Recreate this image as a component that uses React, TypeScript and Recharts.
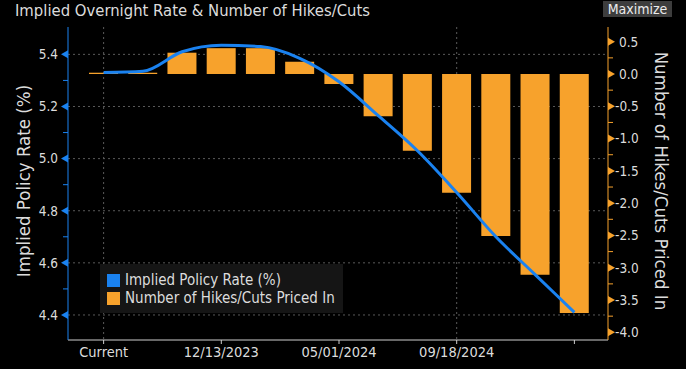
import React from 'react';
import { ComposedChart, Bar, Line, XAxis, YAxis, CartesianGrid, Legend } from 'recharts';

const categories = ['Current', '09/20/2023', '11/01/2023', '12/13/2023', '01/31/2024', '03/20/2024', '05/01/2024', '06/12/2024', '07/31/2024', '09/18/2024', '11/07/2024', '12/18/2024', '01/29/2025'];
const impliedRate = [5.33, 5.335, 5.41, 5.435, 5.43, 5.385, 5.295, 5.165, 5.03, 4.87, 4.7, 4.555, 4.41];
const hikesCuts = [0.02, 0.02, 0.33, 0.4, 0.4, 0.19, -0.155, -0.655, -1.19, -1.84, -2.51, -3.11, -3.7];

const leftTicks = [4.4, 4.5, 4.6, 4.7, 4.8, 4.9, 5.0, 5.1, 5.2, 5.3, 5.4];
const leftMajor = [4.4, 4.6, 4.8, 5.0, 5.2, 5.4];
const rightTicks = [-4, -3.75, -3.5, -3.25, -3, -2.75, -2.5, -2.25, -2, -1.75, -1.5, -1.25, -1, -0.75, -0.5, -0.25, 0, 0.25, 0.5];
const xGridValues = ['Current', '12/13/2023', '05/01/2024', '09/18/2024', '01/29/2025'];
const xLabelHidden = ['01/29/2025'];

const data = categories.map((c, i) => ({ date: c, rate: impliedRate[i], hikes: hikesCuts[i] }));

const BLUE = '#1a82f0';
const ORANGE = '#f7a22c';
const TEXT = '#dcdcdc';
const FONT = "'DejaVu Sans Condensed', 'Liberation Sans Narrow', 'DejaVu Sans', sans-serif";

const LeftTick = (props: any) => {
  const { x, y, payload } = props;
  const v = payload.value;
  const major = Math.round(v * 10) % 2 === 0;
  if (!major) {
    return <line x1={x - 5} x2={x} y1={y} y2={y} stroke={BLUE} strokeWidth={1} />;
  }
  return (
    <g>
      <path d={`M${x} ${y - 4} L${x - 7} ${y} L${x} ${y + 4} Z`} fill={BLUE} />
      <text x={x - 10} y={y} dy="0.36em" textAnchor="end" fill={TEXT} fontSize={13.5} fontFamily={FONT}>
        {v.toFixed(1)}
      </text>
    </g>
  );
};

const RightTick = (props: any) => {
  const { x, y, payload } = props;
  const v = payload.value;
  const major = Math.round(v * 4) % 2 === 0;
  if (!major) {
    return <line x1={x} x2={x + 5} y1={y} y2={y} stroke={ORANGE} strokeWidth={1} />;
  }
  return (
    <g>
      <path d={`M${x} ${y - 4} L${x + 7} ${y} L${x} ${y + 4} Z`} fill={ORANGE} />
      <text x={v < 0 ? x + 7 : x + 11} y={y} dy="0.36em" textAnchor="start" fill={TEXT} fontSize={13.5} fontFamily={FONT}>
        {v.toFixed(1)}
      </text>
    </g>
  );
};

const LegendContent = () => (
  <div
    style={{
      background: '#151515',
      padding: '7px 8px 6px 7px',
      fontFamily: FONT,
      fontSize: 15,
      color: TEXT,
      lineHeight: '18px',
      whiteSpace: 'nowrap',
      display: 'inline-block',
    }}
  >
    <div style={{ display: 'flex', alignItems: 'center' }}>
      <span style={{ display: 'inline-block', width: 13, height: 13, background: BLUE, marginRight: 5 }} />
      Implied Policy Rate (%)
    </div>
    <div style={{ display: 'flex', alignItems: 'center' }}>
      <span style={{ display: 'inline-block', width: 13, height: 13, background: ORANGE, marginRight: 5 }} />
      Number of Hikes/Cuts Priced In
    </div>
  </div>
);

export default function App() {
  return (
    <div style={{ position: 'absolute', top: 0, left: 0, width: 686, height: 369, background: '#000', overflow: 'hidden', fontFamily: FONT }}>
      <div style={{ position: 'absolute', left: 15, top: 1, fontSize: 16.5, color: TEXT, whiteSpace: 'nowrap' }}>
        Implied Overnight Rate &amp; Number of Hikes/Cuts
      </div>
      <div style={{ position: 'absolute', left: 603, top: 1, width: 69, height: 16, background: '#3d3d3d', color: '#ececec', fontSize: 14, lineHeight: '16px', textAlign: 'center' }}>
        Maximize
      </div>
      <div style={{ position: 'absolute', left: 23, top: 181, transform: 'translate(-50%, -50%) rotate(-90deg)', fontSize: 18.5, color: TEXT, whiteSpace: 'nowrap' }}>
        Implied Policy Rate (%)
      </div>
      <div style={{ position: 'absolute', left: 661, top: 181, transform: 'translate(-50%, -50%) rotate(90deg)', fontSize: 18.5, color: TEXT, whiteSpace: 'nowrap' }}>
        Number of Hikes/Cuts Priced In
      </div>
      <ComposedChart width={686} height={369} data={data} margin={{ top: 27, right: 38, bottom: 4, left: 28 }}>
        <CartesianGrid
          yAxisId="left"
          horizontalValues={leftMajor}
          verticalValues={xGridValues}
          stroke="#5a5a5a"
          strokeDasharray="2 3"
        />
        <XAxis
          dataKey="date"
          interval={2}
          height={25}
          padding={{ left: 16, right: 14 }}
          axisLine={{ stroke: '#cfcfcf' }}
          tickLine={{ stroke: '#cfcfcf' }}
          tickSize={4}
          tickMargin={3}
          tick={{ fill: TEXT, fontSize: 14.5, fontFamily: FONT }}
          tickFormatter={(v: string) => (xLabelHidden.includes(v) ? '' : v)}
        />
        <YAxis
          yAxisId="left"
          orientation="left"
          width={40}
          domain={[4.304, 5.505]}
          ticks={leftTicks}
          interval={0}
          allowDataOverflow
          axisLine={{ stroke: BLUE }}
          tickLine={false}
          tickSize={0}
          tickMargin={0}
          tick={<LeftTick />}
        />
        <YAxis
          yAxisId="right"
          orientation="right"
          width={40}
          domain={[-4.119, 0.728]}
          ticks={rightTicks}
          interval={0}
          allowDataOverflow
          axisLine={{ stroke: ORANGE }}
          tickLine={false}
          tickSize={0}
          tickMargin={0}
          tick={<RightTick />}
        />
        <Bar yAxisId="right" dataKey="hikes" name="Number of Hikes/Cuts Priced In" fill={ORANGE} barSize={29} isAnimationActive={false} />
        <Line yAxisId="left" dataKey="rate" name="Implied Policy Rate (%)" type="monotone" stroke={BLUE} strokeWidth={3} dot={false} activeDot={false} isAnimationActive={false} />
        <Legend
          layout="horizontal"
          verticalAlign="middle"
          align="center"
          content={<LegendContent />}
          wrapperStyle={{ position: 'absolute', left: 100, top: 264, width: 'auto', height: 'auto', bottom: 'auto', right: 'auto' }}
        />
      </ComposedChart>
    </div>
  );
}
